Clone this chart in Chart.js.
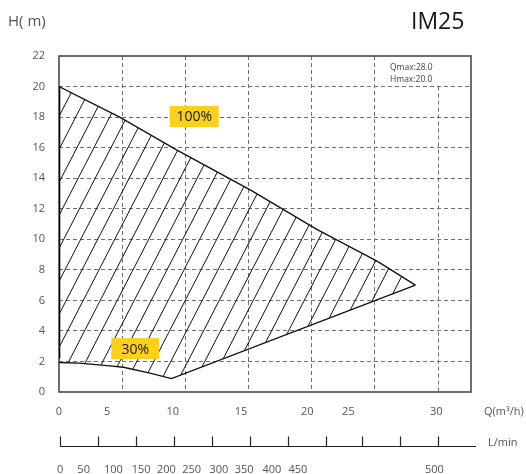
<!DOCTYPE html>
<html>
<head>
<meta charset="utf-8">
<script src="https://cdn.jsdelivr.net/npm/chart.js@4"></script>
<style>
  html, body { margin: 0; padding: 0; background: #fff; }
  #wrap { width: 526px; height: 474px; }
</style>
</head>
<body>
<div id="wrap"><canvas id="pumpChart" width="526" height="474"></canvas></div>
<script>
// curve data (Q in m3/h, H in m)
const topQ = [0, 4.8, 9.3, 15.2, 20.4, 25.2, 28.2];
const topH = [20, 18.0, 15.85, 13.2, 10.65, 8.55, 7.0];
const lowQ = [0, 1.6, 3.8, 5.1, 7.2, 8.9, 28.2];
const lowH = [1.93, 1.89, 1.73, 1.62, 1.23, 0.88, 7.0];
const edgeQ = [0, 0];
const edgeH = [2.2, 20];

// tick labels (printed slightly off the grid in the original)
const qTickLabels = ['0', '5', '10', '15', '20', '25', '30'];
const qTickAt = [0, 3.8, 9.0, 14.4, 19.65, 22.9, 29.85];
const lminLabels = ['0', '50', '100', '150', '200', '250', '300', '350', '400', '450', '500'];
const lminAt = [0.1, 1.95, 4.3, 6.5, 8.5, 10.5, 12.65, 14.65, 16.85, 18.9, 29.7];
const lminTickAt = [0.1, 3.1, 6.1, 9.1, 12.1, 15.1, 18.1, 21.1, 24.0, 27.0, 30.0];

const FONT = "'Open Sans', 'Noto Sans', sans-serif";
const gridColor = '#707070';
const textColor = '#555';

function toPoints(xs, ys) {
  return xs.map((q, i) => ({ x: q, y: ys[i] }));
}

function hatchPattern() {
  const w = 17, h = 33;
  const c = document.createElement('canvas');
  c.width = w; c.height = h;
  const g = c.getContext('2d');
  g.strokeStyle = '#111';
  g.lineWidth = 1;
  [-w, 0, w].forEach(o => {
    g.beginPath();
    g.moveTo(o - 1, h + h / w);
    g.lineTo(o + w + 1, -h / w);
    g.stroke();
  });
  return g.createPattern(c, 'repeat');
}

const decor = {
  id: 'decor',
  beforeDatasetsDraw(chart) {
    const { ctx, chartArea: a, scales: { x, y } } = chart;
    ctx.save();
    // the 30 grid line only starts below the Qmax/Hmax note
    const px = Math.round(x.getPixelForValue(30)) + 0.5;
    ctx.strokeStyle = gridColor;
    ctx.lineWidth = 1;
    ctx.setLineDash([4, 3]);
    ctx.beginPath();
    ctx.moveTo(px, y.getPixelForValue(20));
    ctx.lineTo(px, y.getPixelForValue(0));
    ctx.stroke();
    ctx.setLineDash([]);

    // frame (under the curves so the black edge stays on top)
    ctx.strokeStyle = '#4a4a4a';
    ctx.lineWidth = 1.6;
    ctx.strokeRect(a.left, a.top, a.right - a.left, a.bottom - a.top);
    ctx.restore();
  },
  afterDraw(chart) {
    const { ctx, chartArea: a, scales: { x, y, xq, xl } } = chart;
    ctx.save();

    // yellow tags
    const tag = (txt, q, hv, w) => {
      const cx = x.getPixelForValue(q), cy = y.getPixelForValue(hv);
      ctx.fillStyle = '#FBD11B';
      ctx.fillRect(cx - w / 2, cy - 10.5, w, 21);
      ctx.fillStyle = '#1a1a1a';
      ctx.font = '14px ' + FONT;
      ctx.textAlign = 'center';
      ctx.textBaseline = 'middle';
      ctx.fillText(txt, cx, cy + 1);
    };
    tag('100%', 10.7, 18.04, 49);
    tag('30%', 6.03, 2.84, 48);

    // Qmax / Hmax note
    ctx.fillStyle = '#444';
    ctx.font = '8.5px ' + FONT;
    ctx.textAlign = 'left';
    ctx.textBaseline = 'middle';
    ctx.fillText('Qmax:28.0', 390, a.top + 12);
    ctx.fillText('Hmax:20.0', 390, a.top + 23.5);

    // axis titles
    ctx.fillStyle = textColor;
    ctx.font = '11px ' + FONT;
    ctx.fillText('Q(m³/h)', 484, xq.top + 20);
    ctx.fillText('L/min', 488, xl.top + 15);
    ctx.font = '15px ' + FONT;
    ctx.fillText('H( m)', 8, 22);

    // title
    ctx.fillStyle = '#1a1414';
    ctx.font = '500 23px ' + FONT;
    ctx.fillText('IM25', 411, 22);

    // L/min scale line with upward ticks
    const ly = Math.round(xl.top + 18) + 0.5;
    ctx.strokeStyle = '#222';
    ctx.lineWidth = 1.2;
    ctx.beginPath();
    ctx.moveTo(x.getPixelForValue(lminTickAt[0]), ly);
    ctx.lineTo(x.getPixelForValue(33), ly);
    lminTickAt.forEach(q => {
      const px = Math.round(x.getPixelForValue(q)) + 0.5;
      ctx.moveTo(px, ly);
      ctx.lineTo(px, ly - 10);
    });
    ctx.stroke();
    ctx.restore();
  }
};

const ctx = document.getElementById('pumpChart').getContext('2d');

new Chart(ctx, {
  type: 'line',
  data: {
    datasets: [
      {
        label: '100%',
        data: toPoints(topQ, topH),
        xAxisID: 'x',
        borderColor: '#111',
        borderWidth: 1.3,
        pointRadius: 0,
        tension: 0,
        fill: '+1',
        backgroundColor: hatchPattern()
      },
      {
        label: '30%',
        data: toPoints(lowQ, lowH),
        xAxisID: 'x',
        borderColor: '#111',
        borderWidth: 1.3,
        pointRadius: 0,
        tension: 0,
        fill: false
      },
      {
        label: 'edge',
        data: toPoints(edgeQ, edgeH),
        xAxisID: 'x',
        borderColor: '#000',
        borderWidth: 2.6,
        pointRadius: 0,
        fill: false
      }
    ]
  },
  options: {
    responsive: false,
    animation: false,
    events: [],
    layout: { padding: { top: 56, right: 55, left: 0, bottom: 0 } },
    plugins: {
      legend: { display: false },
      tooltip: { enabled: false },
      title: { display: false }
    },
    scales: {
      x: {
        type: 'linear',
        position: 'bottom',
        weight: 0,
        min: 0,
        max: 32.6,
        ticks: { display: false, stepSize: 5 },
        grid: {
          drawTicks: false,
          color: c => (c.tick && c.tick.value > 0 && c.tick.value < 30 && c.tick.value % 5 === 0) ? gridColor : 'rgba(0,0,0,0)'
        },
        border: { display: false, dash: [4, 3] },
        afterFit: s => { s.height = 0; }
      },
      xq: {
        type: 'linear',
        axis: 'x',
        position: 'bottom',
        weight: 1,
        min: 0,
        max: 32.6,
        grid: { display: false, drawTicks: false },
        border: { display: false },
        afterBuildTicks: s => { s.ticks = qTickAt.map(v => ({ value: v })); },
        ticks: {
          autoSkip: false,
          maxRotation: 0,
          padding: 13,
          color: textColor,
          font: { family: FONT, size: 11 },
          callback: (v, i) => qTickLabels[i]
        },
        afterFit: s => { s.height = 36; }
      },
      xl: {
        type: 'linear',
        axis: 'x',
        position: 'bottom',
        weight: 2,
        min: 0,
        max: 32.6,
        grid: { display: false, drawTicks: false },
        border: { display: false },
        afterBuildTicks: s => { s.ticks = lminAt.map(v => ({ value: v })); },
        ticks: {
          autoSkip: false,
          maxRotation: 0,
          padding: 35,
          color: textColor,
          font: { family: FONT, size: 11 },
          callback: (v, i) => lminLabels[i]
        },
        afterFit: s => { s.height = 46; }
      },
      y: {
        type: 'linear',
        min: 0,
        max: 22,
        ticks: {
          stepSize: 2,
          padding: 14,
          color: textColor,
          font: { family: FONT, size: 11 }
        },
        grid: {
          drawTicks: false,
          color: c => (c.tick && c.tick.value > 0 && c.tick.value < 22) ? gridColor : 'rgba(0,0,0,0)'
        },
        border: { display: false, dash: [4, 3] },
        afterFit: s => { s.width = 59; }
      }
    }
  },
  plugins: [decor]
});
</script>
</body>
</html>
